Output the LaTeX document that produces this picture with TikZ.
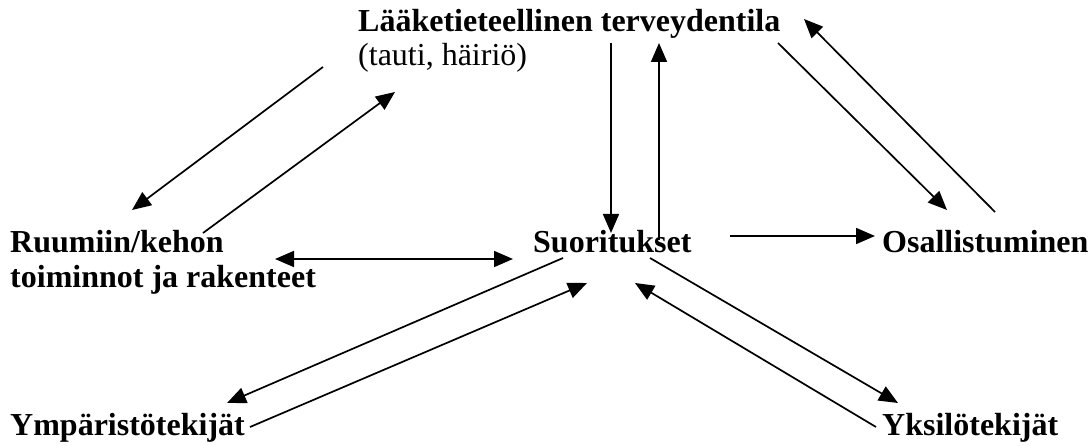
\documentclass[tikz,border=0pt]{standalone}
\usepackage{fontspec}
\setmainfont{Liberation Serif}
\usetikzlibrary{arrows.meta}
\tikzset{
  lbl/.style={anchor=base west, inner sep=0pt, font=\fontsize{32}{34}\selectfont\bfseries},
  sub/.style={anchor=base west, inner sep=0pt, font=\fontsize{32}{34}\selectfont},
  tip/.style={},
  conn/.style={line width=1.7pt, -{Triangle[length=19pt,width=16pt]}},
  dconn/.style={line width=1.7pt, {Triangle[length=19pt,width=16pt]}-{Triangle[length=19pt,width=16pt]}}
}
\begin{document}
\begin{tikzpicture}[x=1pt,y=-1pt]
\useasboundingbox (0,0) rectangle (1090,446);
\fill[white] (0,0) rectangle (1090,446);
% labels
\node[lbl] (health) at (358,32) {Lääketieteellinen terveydentila};
\node[sub] (disease) at (358,66) {(tauti, häiriö)};
\node[lbl] (body1) at (10,253) {Ruumiin/kehon};
\node[lbl] (body2) at (10,288) {toiminnot ja rakenteet};
\node[lbl] (act) at (533,253) {Suoritukset};
\node[lbl] (part) at (882,253) {Osallistuminen};
\node[lbl] (env) at (10,435) {Ympäristötekijät};
\node[lbl] (pers) at (882,435) {Yksilötekijät};
% connector end points
\coordinate (hA) at (323,67);  \coordinate (bA) at (132,210);
\coordinate (bB) at (203,233); \coordinate (hB) at (395,92);
\coordinate (hC) at (611,43);  \coordinate (aC) at (611,233);
\coordinate (aD) at (659,240); \coordinate (hD) at (659,43);
\coordinate (hE) at (778,43);  \coordinate (pE) at (947,210);
\coordinate (pF) at (995,212); \coordinate (hF) at (804,19);
\coordinate (bG) at (275,259); \coordinate (aG) at (513,259);
\coordinate (aH) at (730,236); \coordinate (pH) at (875,236);
\coordinate (aI) at (563,258); \coordinate (eI) at (227,403);
\coordinate (eJ) at (250,427); \coordinate (aJ) at (587,283);
\coordinate (aK) at (650,258); \coordinate (yK) at (898,403);
\coordinate (yL) at (876,427); \coordinate (aL) at (635,283);
% connectors
\draw[conn] (hA) -- (bA);
\draw[conn] (bB) -- (hB);
\draw[conn] (hC) -- (aC);
\draw[conn] (aD) -- (hD);
\draw[conn] (hE) -- (pE);
\draw[conn] (pF) -- (hF);
\draw[dconn] (bG) -- (aG);
\draw[conn] (aH) -- (pH);
\draw[conn] (aI) -- (eI);
\draw[conn] (eJ) -- (aJ);
\draw[conn] (aK) -- (yK);
\draw[conn] (yL) -- (aL);
\end{tikzpicture}
\end{document}
